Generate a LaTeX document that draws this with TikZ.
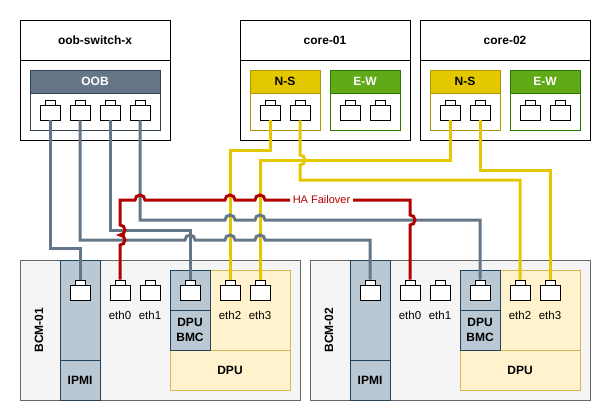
\documentclass[tikz,border=0pt]{standalone}
\usepackage{fontspec}
\setmainfont{Liberation Sans}
\usepackage{tikz}
\usetikzlibrary{positioning}

\definecolor{oobgray}{HTML}{647687}
\definecolor{oobdark}{HTML}{314354}
\definecolor{nsyellow}{HTML}{E3C800}
\definecolor{nsline}{HTML}{B09500}
\definecolor{ewgreen}{HTML}{60A917}
\definecolor{ewline}{HTML}{2D7600}
\definecolor{hared}{HTML}{B20000}
\definecolor{bcmfill}{HTML}{F5F5F5}
\definecolor{bcmline}{HTML}{666666}
\definecolor{ipmifill}{HTML}{BAC8D3}
\definecolor{ipmiline}{HTML}{23445D}
\definecolor{dpufill}{HTML}{FFF2CC}
\definecolor{dpuline}{HTML}{D6B656}

\tikzset{
  swbox/.style={draw, fill=white, line width=0.8pt, inner sep=0pt},
  grpbox/.style={fill=white, line width=0.8pt, inner sep=0pt, minimum width=70pt, minimum height=60pt},
  grphead/.style={line width=0.8pt, inner sep=0pt, minimum width=70pt, minimum height=23pt,
    font=\bfseries\fontsize{12}{14}\selectfont},
  port/.style={draw, fill=white, line width=0.7pt, minimum width=20pt, minimum height=15pt, inner sep=0pt},
  porttab/.style={draw, fill=white, line width=0.7pt, minimum width=10pt, minimum height=5pt, inner sep=0pt},
  boldtxt/.style={font=\bfseries\fontsize{12}{15}\selectfont, align=center},
  ethtxt/.style={font=\fontsize{11.5}{14}\selectfont},
  oobcable/.style={draw=oobgray, line width=3pt},
  nscable/.style={draw=nsyellow, line width=3pt},
  hacable/.style={draw=hared, line width=3pt},
}

\begin{document}
\begin{tikzpicture}[x=1pt, y=-1pt]
  \useasboundingbox (0,0) rectangle (610,420);

  % Switches
  \node[swbox, minimum width=150pt, minimum height=120pt] (oobsw) at (95,80) {};
  \node[swbox, boldtxt, minimum width=150pt, minimum height=40pt] (oobswt) at (95,40) {oob-switch-x};
  \node[swbox, minimum width=170pt, minimum height=120pt] (core1) at (325,80) {};
  \node[swbox, boldtxt, minimum width=170pt, minimum height=40pt] (core1t) at (325,40) {core-01};
  \node[swbox, minimum width=170pt, minimum height=120pt] (core2) at (505,80) {};
  \node[swbox, boldtxt, minimum width=170pt, minimum height=40pt] (core2t) at (505,40) {core-02};

  % Port groups
  \node[grpbox, draw=oobdark, minimum width=130pt] (oob) at (95,100) {};
  \node[grphead, draw=oobdark, fill=oobgray, text=white, minimum width=130pt] (oobh) at (95,81.5) {OOB};
  \node[grpbox, draw=nsline] (c1ns) at (285,100) {};
  \node[grphead, draw=nsline, fill=nsyellow] (c1nsh) at (285,81.5) {N-S};
  \node[grpbox, draw=ewline] (c1ew) at (365,100) {};
  \node[grphead, draw=ewline, fill=ewgreen, text=white] (c1ewh) at (365,81.5) {E-W};
  \node[grpbox, draw=nsline] (c2ns) at (465,100) {};
  \node[grphead, draw=nsline, fill=nsyellow] (c2nsh) at (465,81.5) {N-S};
  \node[grpbox, draw=ewline] (c2ew) at (545,100) {};
  \node[grphead, draw=ewline, fill=ewgreen, text=white] (c2ewh) at (545,81.5) {E-W};

  % Switch ports
  \foreach \n/\x in {oob1/50, oob2/80, oob3/110, oob4/140, c1ns1/270, c1ns2/300, c1ew1/350,
      c1ew2/380, c2ns1/450, c2ns2/480, c2ew1/530, c2ew2/560} {
    \node[port] (\n) at (\x,112.5) {};
    \node[porttab] (\n-t) at (\x,102.5) {};
  }

  % Servers
  \foreach \b/\dx/\name in {b1/0/BCM-01, b2/290/BCM-02} {
    \node[draw=bcmline, fill=bcmfill, line width=0.8pt, minimum width=280pt, minimum height=140pt, inner sep=0pt]
      (\b) at (160+\dx,330) {};
    \node[boldtxt, rotate=90] (\b-name) at (39+\dx,330) {\name};
    % IPMI
    \node[draw=ipmiline, fill=ipmifill, line width=0.8pt, minimum width=40pt, minimum height=140pt, inner sep=0pt]
      (\b-ipmibox) at (80+\dx,330) {};
    \draw[ipmiline, line width=0.8pt] (60+\dx,360) -- (100+\dx,360);
    \node[boldtxt] (\b-ipmitxt) at (80+\dx,380) {IPMI};
    % DPU
    \node[draw=dpuline, fill=dpufill, line width=0.8pt, minimum width=120pt, minimum height=120pt, inner sep=0pt]
      (\b-dpu) at (230+\dx,330) {};
    \draw[dpuline, line width=0.8pt] (170+\dx,350) -- (290+\dx,350);
    \node[boldtxt] (\b-dputxt) at (230+\dx,370) {DPU};
    \node[draw=ipmiline, fill=ipmifill, line width=0.8pt, minimum width=40pt, minimum height=80pt, inner sep=0pt]
      (\b-bmcbox) at (190+\dx,310) {};
    \draw[ipmiline, line width=0.8pt] (170+\dx,310) -- (210+\dx,310);
    \node[boldtxt] (\b-bmctxt) at (190+\dx,330) {DPU\\BMC};
    % ports
    \foreach \p/\x in {ipmi/80, eth0/120, eth1/150, bmc/190, eth2/230, eth3/260} {
      \node[port] (\b\p) at (\x+\dx,292.5) {};
      \node[porttab] (\b\p-t) at (\x+\dx,282.5) {};
    }
    \foreach \p/\x in {eth0/120, eth1/150, eth2/230, eth3/260}
      \node[ethtxt] (\b\p-l) at (\x+\dx,315) {\p};
  }

  % N-S uplinks
  \draw[nscable] (c1ns1.south) |- (230,150) -- (b1eth2-t.north);
  \draw[nscable] (c2ns1.south) |- (260,160) -- (b1eth3-t.north);
  \draw[nscable] (c1ns2.south) -- (300,155) arc[start angle=90, end angle=-90, radius=5pt]
    -- (300,180) -| (b2eth2-t.north);
  \draw[nscable] (c2ns2.south) |- (550,170) -- (b2eth3-t.north);

  % OOB links
  \draw[oobcable] (oob1.south) |- (80,248) -- (b1ipmi-t.north);
  \draw[oobcable] (oob2.south) |- (185,240)
    arc[start angle=180, end angle=0, radius=5pt] -- (225,240)
    arc[start angle=180, end angle=0, radius=5pt] -- (255,240)
    arc[start angle=180, end angle=0, radius=5pt] -- (370,240) -- (b2ipmi-t.north);
  \draw[oobcable] (oob3.south) |- (190,230) -- (b1bmc-t.north);
  \draw[oobcable] (oob4.south) |- (225,220)
    arc[start angle=180, end angle=0, radius=5pt] -- (255,220)
    arc[start angle=180, end angle=0, radius=5pt] -- (480,220) -- (b2bmc-t.north);

  % HA failover link
  \draw[hacable] (b1eth0-t.north) -- (120,245)
    arc[start angle=-90, end angle=90, radius=5pt]
    arc[start angle=-90, end angle=90, radius=5pt] -- (120,200) -- (135,200)
    arc[start angle=180, end angle=0, radius=5pt] -- (225,200)
    arc[start angle=180, end angle=0, radius=5pt] -- (255,200)
    arc[start angle=180, end angle=0, radius=5pt] -- (410,200) -- (410,215)
    arc[start angle=90, end angle=-90, radius=5pt] -- (b2eth0-t.north);
  \node[fill=white, text=hared, inner xsep=3pt, inner ysep=1pt, font=\fontsize{11}{13}\selectfont]
    (halabel) at (321.5,200) {HA Failover};

\end{tikzpicture}
\end{document}
